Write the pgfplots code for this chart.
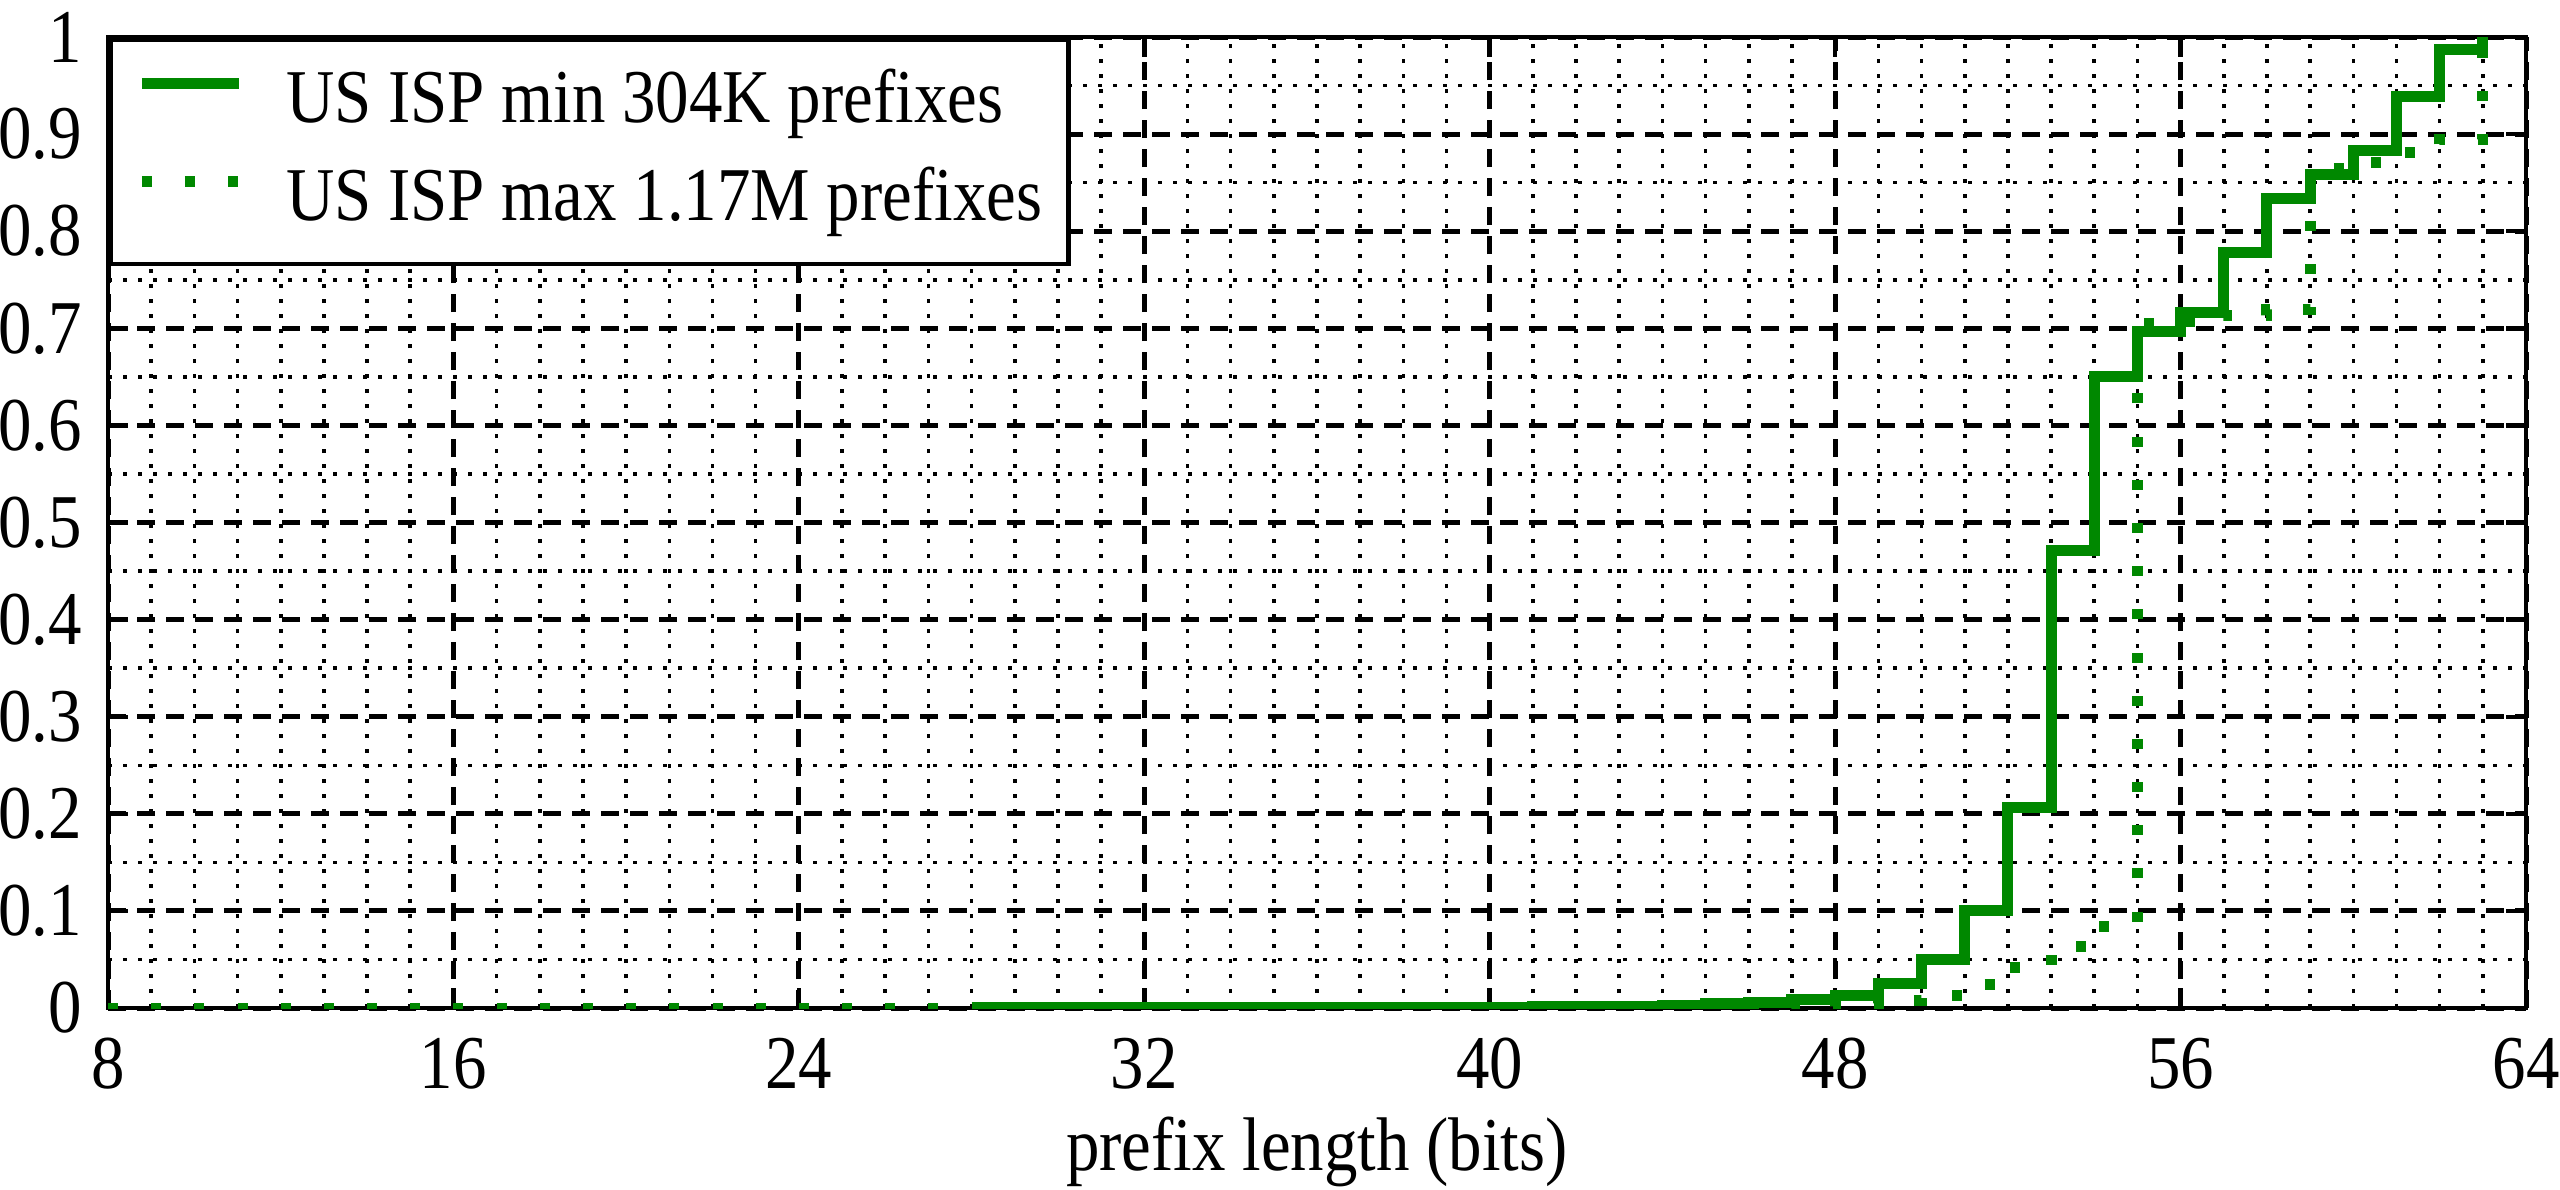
\documentclass[border=0pt]{standalone}
\usepackage{fontspec}
\setmainfont{Liberation Serif}[FakeStretch=0.88]
\usepackage{pgfplots}
\pgfplotsset{compat=1.18}
\definecolor{ispgreen}{RGB}{0,136,0}
\newcommand{\chartfont}{\fontsize{7.6}{9}\selectfont}
\begin{document}
\begin{tikzpicture}
\useasboundingbox (-10.8pt,-18.1pt) rectangle (245.2pt,100.8pt);
\begin{axis}[
  at={(0pt,0pt)}, anchor=south west,
  scale only axis, width=241.8pt, height=97.1pt,
  xmin=8, xmax=64, ymin=0, ymax=1,
  xtick={8,16,...,64},
  ytick={0,0.1,0.2,0.3,0.4,0.5,0.6,0.7,0.8,0.9,1},
  minor x tick num=7, minor y tick num=1,
  grid=both,
  major grid style={black, line width=0.5pt, dash pattern=on 1.8pt off 1.1pt},
  minor grid style={black, line width=0.36pt, dash pattern=on 0.36pt off 1.14pt},
  tick align=inside, major tick length=2pt, minor tick length=0pt,
  tick style={black, line width=0.45pt},
  axis line style={line width=0.45pt},
  /pgf/number format/assume math mode=true,
  tick label style={font=\chartfont, inner sep=0pt},
  xticklabel shift=2.8pt, yticklabel shift=2.4pt,
  xlabel={prefix length (bits)},
  xlabel style={font=\chartfont, inner sep=0pt, at={(axis description cs:0.5,0)}, anchor=base, yshift=-16.2pt},
  legend style={at={(axis description cs:0,1)}, anchor=north west,
    draw=black, line width=0.45pt, fill=white,
    inner xsep=2.6pt, inner ysep=2.2pt, row sep=1.66pt,
    font=\chartfont,
    nodes={inner sep=0pt, text height=6.1pt, text depth=2.1pt},
    cells={anchor=west},
    /tikz/every odd column/.append style={column sep=4.2pt}},
  legend image code/.code={\draw[#1] (0pt,1.9pt) -- (9.7pt,1.9pt);},
]
\addplot[const plot, ispgreen, line width=1.1pt] coordinates {
(28,0.0003) (38,0.0008) (41,0.0015) (43,0.002) (44,0.003) (45,0.0044)
(46,0.006) (47,0.0085) (48,0.0126) (49,0.025) (50,0.05) (51,0.10)
(52,0.207) (53,0.471) (54,0.650) (55,0.697) (56,0.716) (57,0.778)
(58,0.834) (59,0.858) (60,0.883) (61,0.939) (62,0.987) (63,1.0)
};
\addlegendentry{US ISP min 304K prefixes}
\addplot[const plot, ispgreen, line width=1.1pt, dash pattern=on 1pt off 3.318pt] coordinates {
(8,0) (47,0.002) (48,0.005) (49,0.008) (50,0.013) (51,0.024)
(52,0.042) (53,0.063) (54,0.084) (55,0.705) (56,0.707) (57,0.713)
(58,0.719) (59,0.865) (60,0.871) (61,0.881) (62,0.894) (63,1.0)
};
\addlegendentry{US ISP max 1.17M prefixes}
\end{axis}
\end{tikzpicture}
\end{document}
